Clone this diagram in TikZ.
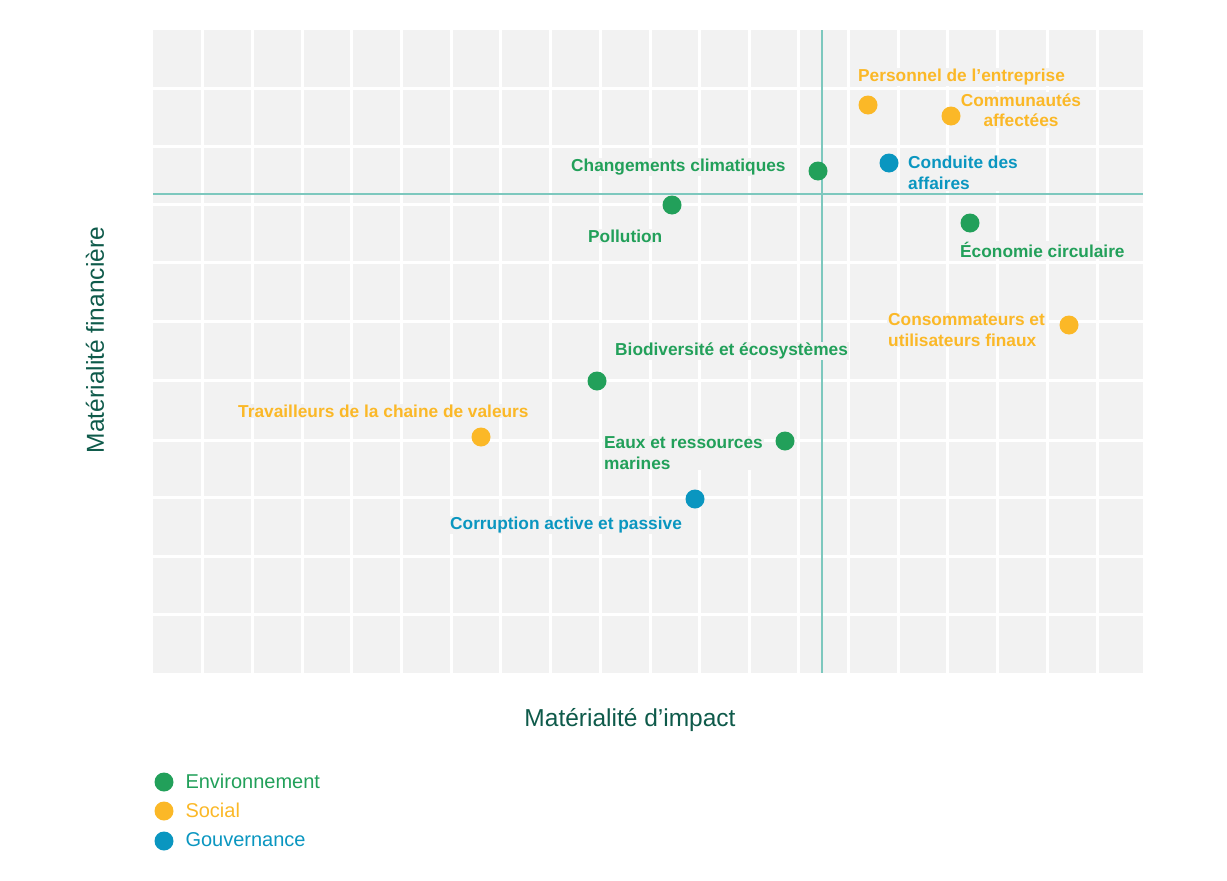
\documentclass[tikz,border=0pt]{standalone}
\usepackage{fontspec}
\setmainfont{Liberation Sans}
\definecolor{envg}{HTML}{22A05A}
\definecolor{socy}{HTML}{FBB827}
\definecolor{govb}{HTML}{0A96C0}
\definecolor{axl}{HTML}{7DC8BE}
\definecolor{ttl}{HTML}{0E5A4A}
\definecolor{bgg}{HTML}{F2F2F2}
\begin{document}
\begin{tikzpicture}[x=1pt,y=-1pt,
  dot/.style={circle,inner sep=0pt,minimum size=19pt},
  lab/.style={font=\fontsize{17.3}{20.5}\selectfont\bfseries,inner sep=1pt,fill=bgg,align=left},
  leg/.style={font=\fontsize{20}{22}\selectfont,anchor=west}]
\useasboundingbox (0,0) rectangle (1227,881);
\fill[bgg] (153,30) rectangle (1143,673);
\foreach \x in {202,252,302,351,401,451,500,550,600,650,699,749,798,848,898,947,997,1047,1097}
  \draw[white,line width=3pt] (\x,30) -- (\x,673);
\foreach \y in {88,146,204,262,321,380,440,497,556,614}
  \draw[white,line width=3pt] (153,\y) -- (1143,\y);
\draw[axl,line width=1.5pt] (822,30) -- (822,673);
\draw[axl,line width=1.5pt] (153,194) -- (1143,194);
% labels
\node[lab,text=socy,anchor=west] (l1) at (857,77) {Personnel de l’entreprise};
\node[lab,text=socy,align=center] (l2) at (1021,110) {Communautés\\affectées};
\node[lab,text=envg,anchor=west] (l3) at (570,167) {Changements climatiques};
\node[lab,text=govb,anchor=west] (l4) at (907,173) {Conduite des\\affaires};
\node[lab,text=envg,anchor=west] (l5) at (587,236) {Pollution};
\node[lab,text=envg,anchor=west] (l6) at (959,250) {Économie circulaire};
\node[lab,text=socy,anchor=west] (l7) at (887,330) {Consommateurs et\\utilisateurs finaux};
\node[lab,text=envg,anchor=west] (l8) at (614,351) {Biodiversité et écosystèmes};
\node[lab,text=socy,anchor=west] (l9) at (237,411) {Travailleurs de la chaine de valeurs};
\node[lab,text=envg,anchor=west] (l10) at (603,453) {Eaux et ressources\\marines};
\node[lab,text=govb,anchor=west] (l11) at (449,525) {Corruption active et passive};
% dots
\node[dot,fill=socy] (d1) at (868,105) {};
\node[dot,fill=socy] (d2) at (951,116) {};
\node[dot,fill=envg] (d3) at (818,171) {};
\node[dot,fill=govb] (d4) at (889,163) {};
\node[dot,fill=envg] (d5) at (672,205) {};
\node[dot,fill=envg] (d6) at (970,223) {};
\node[dot,fill=socy] (d7) at (1069,325) {};
\node[dot,fill=envg] (d8) at (597,381) {};
\node[dot,fill=socy] (d9) at (481,437) {};
\node[dot,fill=envg] (d10) at (785,441) {};
\node[dot,fill=govb] (d11) at (695,499) {};
% axes titles
\node[font=\fontsize{24.5}{28}\selectfont,text=ttl] (xt) at (630,720) {Matérialité d’impact};
\node[font=\fontsize{24.5}{28}\selectfont,text=ttl,rotate=90] (yt) at (95,340) {Matérialité financière};
% legend
\node[dot,fill=envg] (g1) at (164,782) {};
\node[dot,fill=socy] (g2) at (164,811) {};
\node[dot,fill=govb] (g3) at (164,841) {};
\node[leg,text=envg] (t1) at (182,781) {Environnement};
\node[leg,text=socy] (t2) at (182,810) {Social};
\node[leg,text=govb] (t3) at (182,840) {Gouvernance};
\end{tikzpicture}
\end{document}
